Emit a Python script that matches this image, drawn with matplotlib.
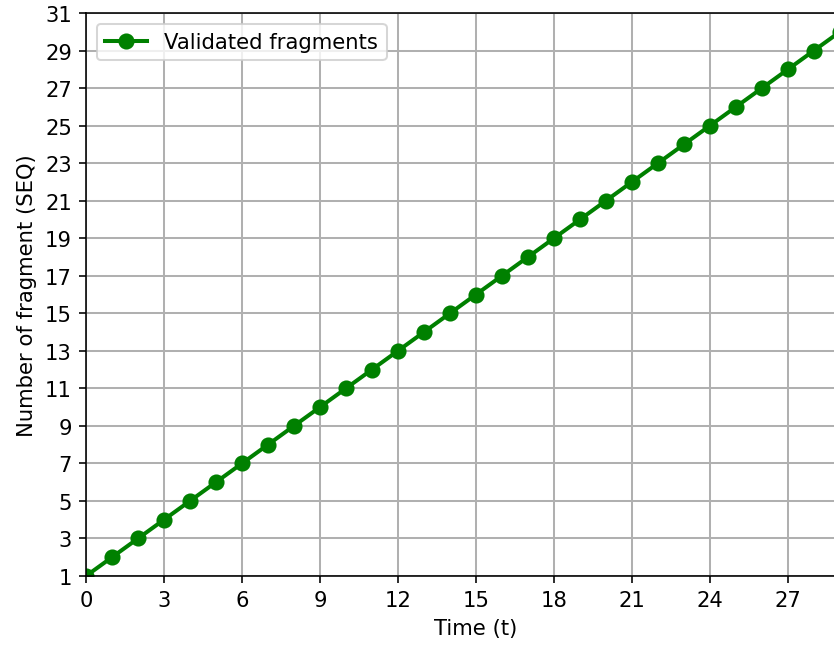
import numpy as np
import matplotlib
matplotlib.use("Agg")
import matplotlib.pyplot as plt

# 시간(t)과 검증된 프래그먼트 개수
time_t = [0, 1, 2, 3, 4, 5, 6, 7, 8, 9, 10, 11, 12, 13, 14, 15,
          16, 17, 18, 19, 20, 21, 22, 23, 24, 25, 26, 27, 28, 29, 30]
validated = [1, 2, 3, 4, 5, 6, 7, 8, 9, 10, 11, 12, 13, 14, 15, 16,
             17, 18, 19, 20, 21, 22, 23, 24, 25, 26, 27, 28, 29, 30, 31]
x_ticks = [0, 3, 6, 9, 12, 15, 18, 21, 24, 27]
y_ticks = [1, 3, 5, 7, 9, 11, 13, 15, 17, 19, 21, 23, 25, 27, 29, 31]

plt.rcParams["font.size"] = 10.5

dpi = 145
fig = plt.figure(figsize=(834 / dpi, 646 / dpi), dpi=dpi)
# 오른쪽이 잘린 원본처럼 축을 그림 밖까지 늘림
ax = fig.add_axes([86 / 834, 1 - 577 / 646, 780 / 834, (577 - 14) / 646])

ax.plot(time_t, validated, color="green", marker="o", linewidth=2,
        markersize=7, label="Validated fragments")
ax.set_xlim(0, 30)
ax.set_ylim(1, 31)
ax.set_xticks(x_ticks)
ax.set_yticks(y_ticks)
ax.set_xlabel("Time (t)")
ax.set_ylabel("Number of fragment (SEQ)")
ax.grid(True, linewidth=1, color="#b0b0b0")
ax.legend(loc="upper left")

fig.savefig("out.png", dpi=dpi)
